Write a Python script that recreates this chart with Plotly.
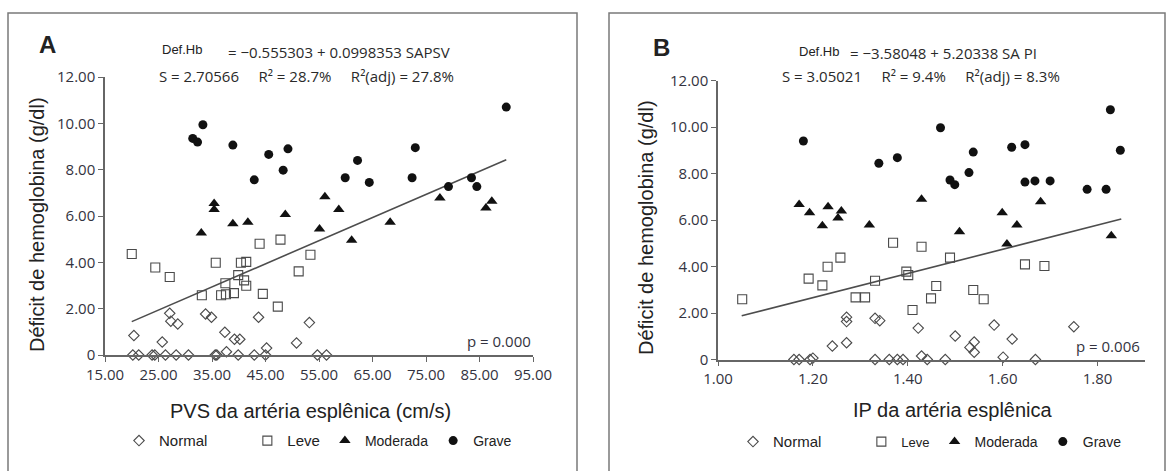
import plotly.graph_objects as go

W, H = 1168, 471

# ---------------- data: panel A (PVS) ----------------
pvs_normal_x = [20.2, 21.3, 23.8, 24.3, 26.3, 28.3, 30.6, 35.6, 35.9, 39.9, 42.9, 45.0, 54.7, 56.4,
                20.4, 25.7, 27.1, 27.3, 28.6, 33.8, 34.9, 37.4, 39.2, 40.2, 43.7, 45.2, 50.8, 53.2, 37.7]
pvs_normal_y = [0, 0, 0, 0, 0, 0, 0, 0, 0, 0, 0, 0, 0, 0,
                0.84, 0.56, 1.80, 1.46, 1.34, 1.77, 1.63, 0.98, 0.68, 0.68, 1.63, 0.30, 0.52, 1.40, 0.14]
pvs_leve_x = [20.0, 24.4, 27.1, 35.7, 40.4, 41.4, 43.9, 47.8, 53.4, 51.2, 39.9, 41.0, 41.4, 37.5,
              33.1, 36.7, 37.6, 39.1, 44.5, 47.3]
pvs_leve_y = [4.36, 3.78, 3.37, 3.98, 3.98, 4.02, 4.80, 4.98, 4.33, 3.61, 3.45, 3.22, 2.99, 3.10,
              2.58, 2.58, 2.62, 2.67, 2.64, 2.09]
pvs_mod_x = [33.0, 35.4, 35.4, 38.9, 41.7, 48.7, 55.1, 56.1, 58.7, 61.1, 68.3, 77.6, 86.2, 87.3]
pvs_mod_y = [5.27, 6.54, 6.28, 5.67, 5.73, 6.06, 5.44, 6.83, 6.28, 4.95, 5.73, 6.78, 6.35, 6.64]
pvs_grave_x = [31.4, 32.3, 33.3, 38.9, 42.9, 45.6, 48.3, 49.2, 59.9, 62.2, 64.4, 72.4, 73.0, 79.2,
               83.5, 84.5, 90.0]
pvs_grave_y = [9.35, 9.19, 9.94, 9.06, 7.56, 8.66, 7.98, 8.90, 7.65, 8.40, 7.45, 7.65, 8.95, 7.27,
               7.65, 7.27, 10.70]
pvs_fit_x = [20.0, 90.0]
pvs_fit_y = [1.44, 8.43]

# ---------------- data: panel B (IP) ----------------
ip_normal_x = [1.160, 1.171, 1.194, 1.200, 1.331, 1.361, 1.378, 1.390, 1.441, 1.479, 1.601, 1.669,
               1.241, 1.271, 1.271, 1.271, 1.331, 1.341, 1.422, 1.429, 1.500, 1.531, 1.540, 1.540,
               1.582, 1.620, 1.750]
ip_normal_y = [0, 0, 0, 0.06, 0, 0, 0, 0, 0, 0, 0.10, 0,
               0.58, 0.72, 1.82, 1.63, 1.77, 1.67, 1.35, 0.15, 1.01, 0.52, 0.75, 0.31,
               1.48, 0.88, 1.41]
ip_leve_x = [1.051, 1.191, 1.220, 1.231, 1.258, 1.290, 1.310, 1.331, 1.369, 1.397, 1.401, 1.410,
             1.429, 1.449, 1.460, 1.489, 1.538, 1.560, 1.647, 1.688]
ip_leve_y = [2.59, 3.48, 3.19, 3.99, 4.38, 2.67, 2.67, 3.39, 5.02, 3.78, 3.63, 2.13,
             4.85, 2.63, 3.16, 4.38, 2.99, 2.59, 4.09, 4.02]
ip_mod_x = [1.171, 1.193, 1.220, 1.232, 1.253, 1.260, 1.319, 1.429, 1.509, 1.599, 1.609, 1.630,
            1.680, 1.829]
ip_mod_y = [6.67, 6.31, 5.75, 6.57, 6.09, 6.39, 5.78, 6.89, 5.50, 6.31, 4.97, 5.78, 6.79, 5.32]
ip_grave_x = [1.180, 1.339, 1.378, 1.469, 1.489, 1.499, 1.529, 1.538, 1.619, 1.647, 1.647, 1.668,
              1.700, 1.778, 1.818, 1.827, 1.848]
ip_grave_y = [9.40, 8.44, 8.68, 9.97, 7.72, 7.52, 8.04, 8.92, 9.13, 9.24, 7.63, 7.68,
              7.68, 7.32, 7.32, 10.74, 9.00]
ip_fit_x = [1.05, 1.85]
ip_fit_y = [1.88, 6.04]

# ---------------- ticks ----------------
pvs_ticks = [15, 25, 35, 45, 55, 65, 75, 85, 95]
pvs_ticktext = ["15.00", "25.00", "35.00", "45.00", "55.00", "65.00", "75.00", "85.00", "95.00"]
ip_ticks = [1.0, 1.2, 1.4, 1.6, 1.8]
ip_ticktext = ["1.00", "1.20", "1.40", "1.60", "1.80"]
y_ticks = [0, 2, 4, 6, 8, 10, 12]
y_ticktext = ["0", "2.00", "4.00", "6.00", "8.00", "10.00", "12.00"]

categories = ["Normal", "Leve", "Moderada", "Grave"]

SANS = "Liberation Sans, Arial, sans-serif"
HUM = "Open Sans, Noto Sans, sans-serif"
pad = "\u00a0" * 9

styles = {
    "Normal": dict(symbol="diamond-open", size=8, color="#4a4a4a", line=dict(width=1.1, color="#4a4a4a")),
    "Leve": dict(symbol="square-open", size=9, color="#4a4a4a", line=dict(width=1.1, color="#4a4a4a")),
    "Moderada": dict(symbol="triangle-up", size=10, color="#111111"),
    "Grave": dict(symbol="circle", size=9, color="#111111"),
}

fig = go.Figure()

panels = [
    ("x", "y", "legend", [(pvs_normal_x, pvs_normal_y), (pvs_leve_x, pvs_leve_y),
                          (pvs_mod_x, pvs_mod_y), (pvs_grave_x, pvs_grave_y)], pvs_fit_x, pvs_fit_y),
    ("x2", "y2", "legend2", [(ip_normal_x, ip_normal_y), (ip_leve_x, ip_leve_y),
                             (ip_mod_x, ip_mod_y), (ip_grave_x, ip_grave_y)], ip_fit_x, ip_fit_y),
]

for xa, ya, lg, series, fx, fy in panels:
    fig.add_trace(go.Scatter(x=fx, y=fy, mode="lines", xaxis=xa, yaxis=ya,
                             line=dict(color="#4d4d4d", width=1.6), showlegend=False))
    for cat, (sx, sy) in zip(categories, series):
        name = cat
        if cat == "Normal":
            name = '<span style="font-size:15px">Normal</span>' + pad
        if cat == "Leve":
            name = ('<span style="font-size:15px">Leve</span>' if lg == "legend"
                    else '<span style="font-size:13px">Leve</span>')
        fig.add_trace(go.Scatter(x=sx, y=sy, mode="markers", name=name, xaxis=xa, yaxis=ya,
                                 legend=lg, marker=styles[cat], cliponaxis=False))

axis_common = dict(showline=True, linecolor="#666666", linewidth=1.5, ticks="outside",
                   ticklen=5, tickcolor="#666666", tickwidth=1.3, showgrid=False, zeroline=False,
                   tickfont=dict(family=HUM, size=15, color="#333340"), fixedrange=True,
                   automargin=False)

fig.update_layout(
    width=W, height=H, margin=dict(l=0, r=0, t=0, b=0, autoexpand=False),
    paper_bgcolor="white", plot_bgcolor="white",
    xaxis=dict(domain=[105 / W, 533 / W], range=[15, 95], tickvals=pvs_ticks,
               ticktext=pvs_ticktext, anchor="y", **axis_common),
    yaxis=dict(domain=[1 - 355 / H, 1 - 77 / H], range=[0, 12], tickvals=y_ticks,
               ticktext=y_ticktext, anchor="x", **axis_common),
    xaxis2=dict(domain=[718 / W, 1145 / W], range=[1.0, 1.9], tickvals=ip_ticks,
                ticktext=ip_ticktext, anchor="y2", **axis_common),
    yaxis2=dict(domain=[1 - 359.5 / H, 1 - 80.5 / H], range=[0, 12], tickvals=y_ticks,
                ticktext=y_ticktext, anchor="x2", **axis_common),
    legend=dict(orientation="h", x=119 / W, y=1 - 441 / H, xanchor="left", yanchor="middle",
                font=dict(family=SANS, size=14, color="#222222"), bgcolor="rgba(0,0,0,0)",
                itemsizing="trace"),
    legend2=dict(orientation="h", x=733 / W, y=1 - 442 / H, xanchor="left", yanchor="middle",
                 font=dict(family=SANS, size=14, color="#222222"), bgcolor="rgba(0,0,0,0)",
                 itemsizing="trace"),
)

# panel frames
for x0, x1 in [(8, 577), (609, 1165)]:
    fig.add_shape(type="rect", xref="paper", yref="paper", x0=x0 / W, x1=x1 / W,
                  y0=-0.02, y1=1 - 13 / H, line=dict(color="#7a7a7a", width=1.5))


def ann(text, x, y, size, family=SANS, xanchor="center", color="#222222", angle=0, yanchor="middle"):
    fig.add_annotation(text=text, x=x / W, y=1 - y / H, xref="paper", yref="paper",
                       showarrow=False, xanchor=xanchor, yanchor=yanchor, textangle=angle,
                       font=dict(family=family, size=size, color=color))


SP = "\u00a0" * 4
# panel A texts
ann("<b>A</b>", 47, 45, 24)
ann("Def.Hb", 160, 50, 13, xanchor="left")
ann("= \u22120.555303 + 0.0998353 SAPSV", 226, 52, 15, family=HUM, xanchor="left", color="#2a2a2a")
ann("S = 2.70566" + SP + " R\u00b2 = 28.7%" + SP + " R\u00b2(adj) = 27.8%",
    157, 76, 15, family=HUM, xanchor="left", color="#2a2a2a")
ann("p = 0.000", 533, 341, 15, family=HUM, xanchor="right", color="#333340")
ann("D\u00e9ficit de hemoglobina (g/dl)", 37, 225, 20, angle=-90)
ann("PVS da art\u00e9ria espl\u00eanica (cm/s)", 310, 411, 20)

# panel B texts
ann("<b>B</b>", 661, 48, 24)
ann("Def.Hb", 797, 52, 13, xanchor="left")
ann("= \u22123.58048 + 5.20338 SA PI", 848, 53, 15, family=HUM, xanchor="left", color="#2a2a2a")
ann("S = 3.05021" + SP + " R\u00b2 = 9.4%" + SP + " R\u00b2(adj) = 8.3%",
    780, 76, 15, family=HUM, xanchor="left", color="#2a2a2a")
ann("p = 0.006", 1142, 346, 15, family=HUM, xanchor="right", color="#333340")
ann("D\u00e9ficit de hemoglobina (g/dl)", 646, 228, 20, angle=-90)
ann("IP da art\u00e9ria espl\u00eanica", 953, 410, 20)

fig.write_html(
    "out.html",
    config={"displayModeBar": False},
    post_script="document.body.style.margin='0';document.body.style.overflow='hidden';",
)
